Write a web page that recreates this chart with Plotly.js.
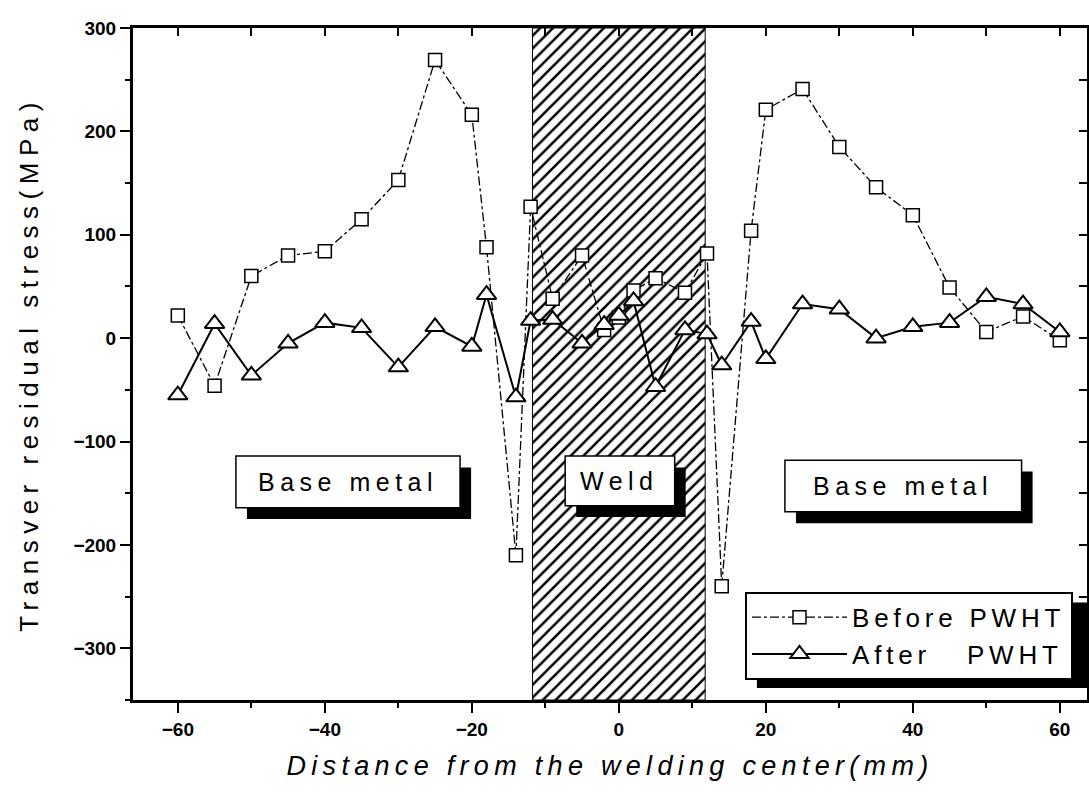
<!DOCTYPE html>
<html>
<head>
<meta charset="utf-8">
<script src="https://cdn.plot.ly/plotly-3.0.1.min.js"></script>
<style>
html,body{margin:0;padding:0;background:#fff;}
#chart{width:1089px;height:803px;}
.legendtext{letter-spacing:4.8px;}
.annotation-text{letter-spacing:5.5px;}
.xtitle{letter-spacing:5.3px;}
.ytitle{letter-spacing:6.5px;}
</style>
</head>
<body>
<div id="chart"></div>
<script>
// Distance from the welding center (mm)
const distance = [-60,-55,-50,-45,-40,-35,-30,-25,-20,-18,-14,-12,-9,-5,-2,0,2,5,9,12,14,18,20,25,30,35,40,45,50,55,60];
// Transverse residual stress (MPa)
const beforePWHT = [22,-46,60,80,84,115,153,269,216,88,-210,127,38,80,8,20,46,58,44,82,-240,104,221,241,185,146,119,49,6,21,-2];
const afterPWHT  = [-55,14,-36,-5,15,10,-28,11,-8,42,-57,17,18,-5,13,22,36,-47,8,4,-26,16,-20,33,28,0,11,15,40,33,6];
// Weld zone (hatched band)
const weldCenter = [0];
const weldWidth = [23.5];
const weldBase = [-350];
const weldHeight = [650];
// Region labels
const regionLabels = ["Base metal", "Weld", "Base metal"];
const regionX0 = [-52.1, -7.3, 22.6];
const regionX1 = [-21.6, 7.6, 54.8];
const regionY0 = [-114, -114, -118];
const regionY1 = [-164, -162, -168];

const FONT = "Liberation Sans, Arial, sans-serif";

const traces = [
  {
    type: 'bar', x: weldCenter, y: weldHeight, base: weldBase, width: weldWidth,
    marker: {color: 'white', line: {color: 'black', width: 1},
      pattern: {shape: '/', fgcolor: 'black', bgcolor: 'white', size: 9, solidity: 0.28}},
    showlegend: false, hoverinfo: 'skip'
  },
  {
    type: 'scatter', mode: 'lines+markers', name: 'Before PWHT',
    x: distance, y: beforePWHT,
    line: {color: 'black', width: 1.3, dash: 'dashdot'},
    marker: {symbol: 'square', size: 13, color: 'white', line: {color: 'black', width: 1.5}}
  },
  {
    type: 'scatter', mode: 'lines+markers', name: 'After\u00A0\u00A0\u00A0PWHT',
    x: distance, y: afterPWHT,
    line: {color: 'black', width: 2},
    marker: {symbol: 'triangle-up', size: 17, color: 'white', line: {color: 'black', width: 2}}
  },
  {type: 'scatter', x: [], y: [], xaxis: 'x2', yaxis: 'y2', showlegend: false, hoverinfo: 'skip'}
];

const shapes = [];
const annotations = [];
for (let i = 0; i < regionLabels.length; i++) {
  shapes.push({type: 'rect', xref: 'x', yref: 'y', layer: 'above',
    x0: regionX0[i] + 1.5, x1: regionX1[i] + 1.5, y0: regionY0[i] - 11, y1: regionY1[i] - 11,
    fillcolor: 'black', line: {width: 0}});
  shapes.push({type: 'rect', xref: 'x', yref: 'y', layer: 'above',
    x0: regionX0[i], x1: regionX1[i], y0: regionY0[i], y1: regionY1[i],
    fillcolor: 'white', line: {color: 'black', width: 1.5}});
  annotations.push({xref: 'x', yref: 'y', x: (regionX0[i] + regionX1[i]) / 2,
    y: (regionY0[i] + regionY1[i]) / 2, text: regionLabels[i], showarrow: false,
    font: {family: FONT, size: 25, color: 'black'}});
}
// legend shadow
shapes.push({type: 'rect', xref: 'paper', yref: 'paper', layer: 'above',
  x0: 0.654, x1: 1.01, y0: 0.018, y1: 0.145, fillcolor: 'black', line: {width: 0}});

const layout = {
  width: 1089, height: 803,
  margin: {l: 133, r: 2, t: 28, b: 103},
  paper_bgcolor: 'white', plot_bgcolor: 'white',
  showlegend: true,
  legend: {x: 0.6415, y: 0.161, xanchor: 'left', yanchor: 'top',
    bgcolor: 'white', bordercolor: 'black', borderwidth: 2,
    font: {family: FONT, size: 26, color: 'black'}, tracegroupgap: 0, itemwidth: 95},
  xaxis: {
    range: [-66.1, 63.7], showgrid: false, zeroline: false,
    showline: true, linecolor: 'black', linewidth: 3,
    ticks: 'outside', tickmode: 'linear', tick0: -60, dtick: 20, ticklen: 10, tickwidth: 2, tickcolor: 'black',
    minor: {ticks: 'outside', dtick: 10, tick0: -60, ticklen: 5, tickwidth: 2, tickcolor: 'black'},
    tickfont: {family: FONT, size: 19, color: 'black', weight: 'bold'},
    title: {text: '<i>Distance from the welding center(mm)</i>', font: {family: FONT, size: 27, color: 'black'}, standoff: 18}
  },
  yaxis: {
    range: [-350, 300], showgrid: false, zeroline: false,
    showline: true, linecolor: 'black', linewidth: 3,
    ticks: 'outside', tickmode: 'linear', tick0: 0, dtick: 100, ticklen: 10, tickwidth: 2, tickcolor: 'black',
    minor: {ticks: 'outside', dtick: 50, ticklen: 5, tickwidth: 2, tickcolor: 'black'},
    tickfont: {family: FONT, size: 19, color: 'black', weight: 'bold'},
    title: {text: 'Transver residual stress(MPa)', font: {family: FONT, size: 26, color: 'black'}, standoff: 28}
  },
  xaxis2: {
    overlaying: 'x', side: 'top', anchor: 'y2', matches: 'x', range: [-66.1, 63.7],
    showgrid: false, zeroline: false, showline: true, linecolor: 'black', linewidth: 3,
    ticks: 'inside', tickmode: 'linear', tick0: -60, dtick: 10, ticklen: 8, tickwidth: 2, tickcolor: 'black',
    showticklabels: false
  },
  yaxis2: {
    overlaying: 'y', side: 'right', anchor: 'x2', range: [-350, 300],
    showgrid: false, zeroline: false, showline: true, linecolor: 'black', linewidth: 3,
    ticks: 'inside', tickmode: 'linear', tick0: 0, dtick: 50, ticklen: 8, tickwidth: 2, tickcolor: 'black',
    showticklabels: false
  },
  shapes: shapes,
  annotations: annotations
};

Plotly.newPlot('chart', traces, layout, {displayModeBar: false, staticPlot: true});
</script>
</body>
</html>
